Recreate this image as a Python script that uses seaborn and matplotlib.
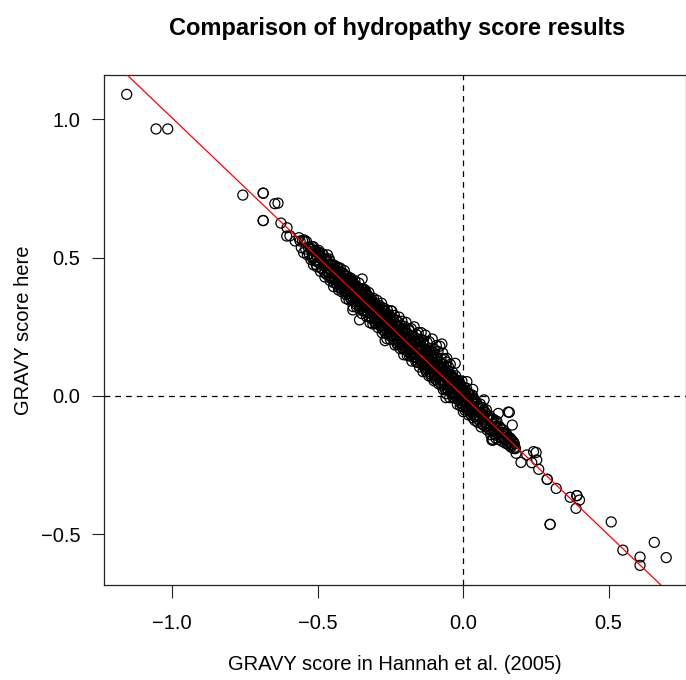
import pandas as pd
import matplotlib
matplotlib.use('Agg')
import matplotlib.pyplot as plt
import seaborn as sns

# isolated points away from the main band
outlier_x = [-1.156, -1.055, -1.015, -0.757, -0.687, -0.687, -0.687, -0.687, -0.647, -0.636,
             -0.626, -0.605, -0.606, -0.595, -0.577, -0.564, -0.546, -0.347, -0.337, -0.466,
             -0.356, -0.379, -0.245, -0.073, -0.268, -0.027, -0.056, -0.059, 0.013, 0.001,
             0.033, 0.072, 0.121, 0.155, 0.099, 0.159, 0.169, 0.102, 0.199, 0.242,
             0.251, 0.253, 0.236, 0.219, 0.182, 0.260, 0.289, 0.289, 0.320, 0.368,
             0.391, 0.391, 0.400, 0.388, 0.299, 0.299, 0.509, 0.549, 0.608, 0.608,
             0.657, 0.698]
outlier_y = [1.090, 0.965, 0.965, 0.726, 0.733, 0.733, 0.634, 0.634, 0.695, 0.697,
             0.625, 0.608, 0.578, 0.579, 0.560, 0.572, 0.564, 0.423, 0.383, 0.510,
             0.275, 0.311, 0.307, 0.188, 0.200, 0.118, 0.122, -0.006, 0.052, -0.057,
             0.024, -0.014, -0.063, -0.058, -0.159, -0.059, -0.105, -0.160, -0.240, -0.201,
             -0.204, -0.231, -0.241, -0.213, -0.207, -0.265, -0.301, -0.301, -0.334, -0.366,
             -0.360, -0.360, -0.376, -0.406, -0.464, -0.464, -0.455, -0.557, -0.582, -0.612,
             -0.529, -0.584]

band_x = [-.560, -.556, -.552, -.548, -.544, -.541, -.538, -.535, -.532, -.529,
          -.526, -.523, -.520, -.517, -.514, -.511, -.508, -.505, -.502, -.499,
          -.496, -.493, -.490, -.487, -.484, -.481, -.478, -.475, -.472, -.469,
          -.466, -.463, -.460, -.457, -.454, -.451, -.448, -.445, -.442, -.439,
          -.436, -.434, -.432, -.430, -.428, -.426, -.424, -.422, -.420, -.418,
          -.416, -.414, -.412, -.410, -.408, -.406, -.404, -.402, -.400, -.398,
          -.396, -.394, -.392, -.390, -.388, -.386, -.384, -.382, -.380, -.378,
          -.376, -.374, -.372, -.370, -.368, -.366, -.364, -.362, -.360, -.358,
          -.356, -.354, -.352, -.350, -.348, -.346, -.344, -.342, -.340, -.338,
          -.336, -.334, -.332, -.330, -.328, -.326, -.324, -.322, -.320, -.318,
          -.316, -.314, -.312, -.310, -.308, -.306, -.304, -.302, -.300, -.298,
          -.296, -.294, -.292, -.290, -.288, -.286, -.284, -.282, -.280, -.278,
          -.276, -.274, -.272, -.270, -.268, -.266, -.264, -.262, -.260, -.258,
          -.256, -.254, -.252, -.250, -.248, -.246, -.244, -.242, -.240, -.238,
          -.236, -.234, -.232, -.230, -.228, -.226, -.224, -.222, -.220, -.218,
          -.216, -.214, -.212, -.210, -.208, -.206, -.204, -.202, -.200, -.198,
          -.196, -.194, -.192, -.190, -.188, -.186, -.184, -.182, -.180, -.178,
          -.176, -.174, -.172, -.170, -.168, -.166, -.164, -.162, -.160, -.158,
          -.156, -.154, -.152, -.150, -.148, -.146, -.144, -.142, -.140, -.138,
          -.136, -.134, -.132, -.130, -.128, -.126, -.124, -.122, -.120, -.118,
          -.116, -.114, -.112, -.110, -.108, -.106, -.104, -.102, -.100, -.098,
          -.096, -.094, -.092, -.090, -.088, -.086, -.084, -.082, -.080, -.078,
          -.076, -.074, -.072, -.070, -.068, -.066, -.064, -.062, -.060, -.058,
          -.056, -.054, -.052, -.050, -.048, -.046, -.044, -.042, -.040, -.038,
          -.036, -.034, -.032, -.030, -.028, -.026, -.024, -.022, -.020, -.018,
          -.016, -.014, -.012, -.010, -.008, -.006, -.004, -.002, .000, .002,
          .004, .006, .008, .010, .012, .014, .016, .018, .020, .022,
          .024, .026, .028, .030, .032, .034, .036, .038, .040, .042,
          .044, .047, .050, .053, .056, .059, .062, .065, .068, .071,
          .074, .077, .080, .083, .086, .089, .092, .095, .098, .101,
          .104, .107, .110, .113, .116, .119, .122, .125, .128, .131,
          .134, .137, .140, .143, .146, .149, .152, .155, .158, .162,
          .165, .168, .170, .172, .174, .176, .178, .180]
band_y = [.560, .536, .562, .518, .559, .531, .558, .510, .537, .514,
          .536, .493, .540, .507, .474, .526, .488, .510, .467, .519,
          .486, .518, .450, .497, .459, .511, .473, .430, .487, .439,
          .486, .448, .495, .417, .459, .426, .473, .395, .452, .419,
          .456, .404, .437, .465, .383, .441, .414, .462, .395, .418,
          .376, .444, .397, .420, .453, .376, .424, .352, .405, .433,
          .376, .409, .347, .415, .383, .426, .349, .392, .410, .323,
          .396, .364, .417, .340, .373, .321, .394, .347, .375, .408,
          .316, .364, .332, .385, .298, .366, .344, .387, .310, .353,
          .321, .374, .287, .340, .358, .301, .374, .317, .265, .338,
          .351, .279, .317, .260, .353, .296, .324, .262, .330, .278,
          .346, .294, .247, .315, .273, .326, .254, .292, .335, .228,
          .291, .249, .317, .265, .298, .226, .284, .207, .310, .248,
          .291, .224, .262, .205, .308, .271, .224, .282, .205, .243,
          .291, .184, .252, .220, .273, .186, .254, .197, .285, .228,
          .171, .254, .197, .270, .173, .231, .149, .252, .200, .168,
          .266, .209, .147, .225, .178, .241, .144, .205, .158, .243,
          .126, .184, .217, .142, .250, .153, .196, .124, .222, .163,
          .121, .229, .172, .105, .198, .136, .229, .117, .175, .088,
          .201, .144, .102, .220, .168, .086, .194, .107, .145, .073,
          .196, .129, .087, .165, .068, .206, .134, .092, .055, .168,
          .116, .059, .182, .135, .073, .161, .044, .112, .180, .058,
          .136, .039, .087, .155, .023, .106, .134, .052, .085, .008,
          .136, .064, .022, .105, .068, -.006, .114, .027, .075, .013,
          .086, -.006, .044, .062, .000, .073, .011, .044, -.030, .023,
          .056, -.016, .027, -.035, .038, -.004, .054, -.038, .020, -.022,
          .031, -.051, .002, -.035, .028, -.024, .009, -.068, -.005, -.052,
          .006, -.066, -.018, -.050, .003, -.079, -.014, -.046, -.088, -.017,
          -.074, -.027, -.095, -.043, -.071, -.029, -.112, -.065, -.043, -.106,
          -.059, -.097, -.050, -.123, -.081, -.119, -.072, -.140, -.088, -.156,
          -.084, -.137, -.110, -.153, -.091, -.129, -.157, -.110, -.148, -.121,
          -.164, -.122, -.155, -.133, -.171, -.144, -.172, -.150, -.178, -.152,
          -.185, -.160, -.178, -.165, -.190, -.172, -.185, -.190]

# more points in the middle of the band, where the circles pile up to solid black
core_x = [-.520, -.517, -.514, -.511, -.508, -.505, -.502, -.499, -.496, -.493,
          -.490, -.487, -.484, -.481, -.478, -.475, -.472, -.469, -.466, -.463,
          -.460, -.458, -.456, -.454, -.452, -.450, -.448, -.446, -.444, -.442,
          -.440, -.438, -.436, -.434, -.432, -.430, -.428, -.426, -.424, -.422,
          -.420, -.418, -.416, -.414, -.412, -.410, -.408, -.406, -.404, -.402,
          -.400, -.398, -.396, -.394, -.392, -.390, -.388, -.386, -.384, -.382,
          -.380, -.378, -.376, -.374, -.372, -.370, -.368, -.366, -.364, -.362,
          -.360, -.358, -.356, -.354, -.352, -.350, -.348, -.346, -.344, -.342,
          -.340, -.338, -.336, -.334, -.332, -.330, -.328, -.326, -.324, -.322,
          -.320, -.318, -.316, -.314, -.312, -.310, -.308, -.306, -.304, -.302,
          -.300, -.298, -.296, -.294, -.292, -.290, -.288, -.286, -.284, -.282,
          -.280, -.278, -.276, -.274, -.272, -.270, -.268, -.266, -.264, -.262,
          -.260, -.258, -.256, -.254, -.252, -.250, -.248, -.246, -.244, -.242,
          -.240, -.238, -.236, -.234, -.232, -.230, -.228, -.226, -.224, -.222,
          -.220, -.218, -.216, -.214, -.212, -.210, -.208, -.206, -.204, -.202,
          -.200, -.198, -.196, -.194, -.192, -.190, -.188, -.186, -.184, -.182,
          -.180, -.178, -.176, -.174, -.172, -.170, -.168, -.166, -.164, -.162,
          -.160, -.158, -.156, -.154, -.152, -.150, -.148, -.146, -.144, -.142,
          -.140, -.138, -.136, -.134, -.132, -.130, -.128, -.126, -.124, -.122,
          -.120, -.118, -.116, -.114, -.112, -.110, -.108, -.106, -.104, -.102,
          -.100, -.098, -.096, -.094, -.092, -.090, -.088, -.086, -.084, -.082,
          -.080, -.078, -.076, -.074, -.072, -.070, -.068, -.066, -.064, -.062,
          -.060, -.058, -.056, -.054, -.052, -.050, -.048, -.046, -.044, -.042,
          -.040, -.038, -.036, -.034, -.032, -.030, -.028, -.026, -.024, -.022,
          -.020, -.018, -.016, -.014, -.012, -.010, -.008, -.006, -.004, -.002,
          .000, .003, .006, .009, .012, .015, .018, .021, .024, .027,
          .030, .033, .036, .039, .042, .045, .048, .051, .054, .057,
          .060, .063, .066, .069, .072, .075, .078, .081, .084, .087,
          .090, .093, .096, .099, .102, .105, .108, .111, .114, .117,
          .120, .126, .132, .138, .144, .150, .156, .162, .168, .174]
core_y = [.530, .497, .539, .501, .523, .475, .522, .484, .526, .488,
          .505, .462, .514, .471, .498, .445, .477, .494, .446, .473,
          .445, .488, .426, .474, .447, .475, .423, .458, .409, .472,
          .430, .456, .408, .440, .462, .412, .450, .391, .436, .417,
          .446, .388, .424, .398, .444, .402, .424, .380, .434, .366,
          .414, .386, .424, .370, .396, .424, .356, .404, .378, .360,
          .416, .384, .348, .396, .358, .400, .332, .378, .344, .388,
          .354, .390, .326, .370, .340, .374, .326, .384, .348, .308,
          .360, .322, .366, .306, .342, .326, .364, .302, .340, .286,
          .346, .308, .322, .284, .346, .292, .322, .336, .278, .304,
          .266, .320, .284, .330, .268, .298, .316, .254, .300, .276,
          .254, .312, .280, .238, .296, .256, .306, .244, .274, .292,
          .230, .272, .248, .294, .218, .270, .232, .278, .242, .216,
          .276, .246, .206, .256, .220, .274, .208, .238, .254, .186,
          .238, .210, .256, .186, .218, .242, .192, .230, .170, .212,
          .244, .176, .212, .190, .226, .160, .208, .236, .172, .190,
          .150, .214, .186, .156, .218, .172, .140, .192, .156, .202,
          .138, .172, .206, .122, .176, .144, .184, .130, .204, .146,
          .112, .168, .148, .184, .114, .152, .094, .168, .126, .156,
          .096, .134, .164, .104, .140, .078, .116, .146, .088, .158,
          .120, .072, .132, .098, .058, .140, .102, .068, .114, .078,
          .122, .048, .094, .106, .058, .076, .114, .042, .090, .026,
          .070, .094, .040, .078, .024, .090, .050, .026, .074, .054,
          .008, .064, .028, .068, .010, .044, -.008, .054, .028, .004,
          .052, -.010, .032, .002, .048, -.024, .016, .030, -.016, .014,
          -.030, .017, -.018, .021, -.048, -.009, -.040, .005, -.030, -.057,
          -.014, -.049, -.008, -.073, -.038, -.069, -.028, -.059, -.086, -.045,
          -.080, -.041, -.102, -.067, -.086, -.057, -.108, -.073, -.106, -.075,
          -.120, -.087, -.114, -.085, -.128, -.101, -.120, -.093, -.142, -.115,
          -.134, -.114, -.152, -.132, -.156, -.138, -.166, -.156, -.176, -.170]

x_ticks = [-1.0, -0.5, 0.0, 0.5]
y_ticks = [-0.5, 0.0, 0.5, 1.0]
fit_slope = -1.005

df = pd.DataFrame({'hannah': outlier_x + band_x + core_x,
                   'here': outlier_y + band_y + core_y})

sns.set_style('ticks')
plt.rcParams['font.family'] = ['Liberation Sans', 'DejaVu Sans']
plt.rcParams['text.color'] = 'black'
plt.rcParams['axes.labelcolor'] = 'black'
plt.rcParams['xtick.labelcolor'] = 'black'
plt.rcParams['ytick.labelcolor'] = 'black'

fig = plt.figure(figsize=(6.86, 6.80), dpi=100)
ax = fig.add_axes([104 / 686, 95 / 680, 582 / 686, 510 / 680])

ax.axhline(0, color='black', lw=0.9, ls=(0, (4.6, 4)), zorder=1)
ax.axvline(0, color='black', lw=0.9, ls=(0, (4.6, 4)), zorder=1)
sns.scatterplot(data=df, x='hannah', y='here', ax=ax, s=52, facecolor='none',
                edgecolor='black', linewidth=0.9, zorder=2, clip_on=False)
ax.axline((0, 0), slope=fit_slope, color='red', lw=0.9, zorder=3)

ax.set_xlim(-1.234, 0.766)
ax.set_ylim(-0.683, 1.16)
ax.set_xticks(x_ticks)
ax.set_yticks(y_ticks)
ax.tick_params(length=9, width=0.8, labelsize=14.5, color='#222222', pad=8)
ax.xaxis.set_tick_params(pad=12)
for s in ax.spines.values():
    s.set_visible(True)
    s.set_color('#222222')
    s.set_linewidth(0.9)

ax.set_xlabel('GRAVY score in Hannah et al. (2005)', fontsize=14.5, labelpad=16)
ax.set_ylabel('GRAVY score here', fontsize=14.5, labelpad=5.5)
fig.text(397 / 686, 1 - 28 / 680, 'Comparison of hydropathy score results',
         fontsize=17, fontweight='bold', ha='center', va='center')

fig.savefig('out.png', dpi=100)
